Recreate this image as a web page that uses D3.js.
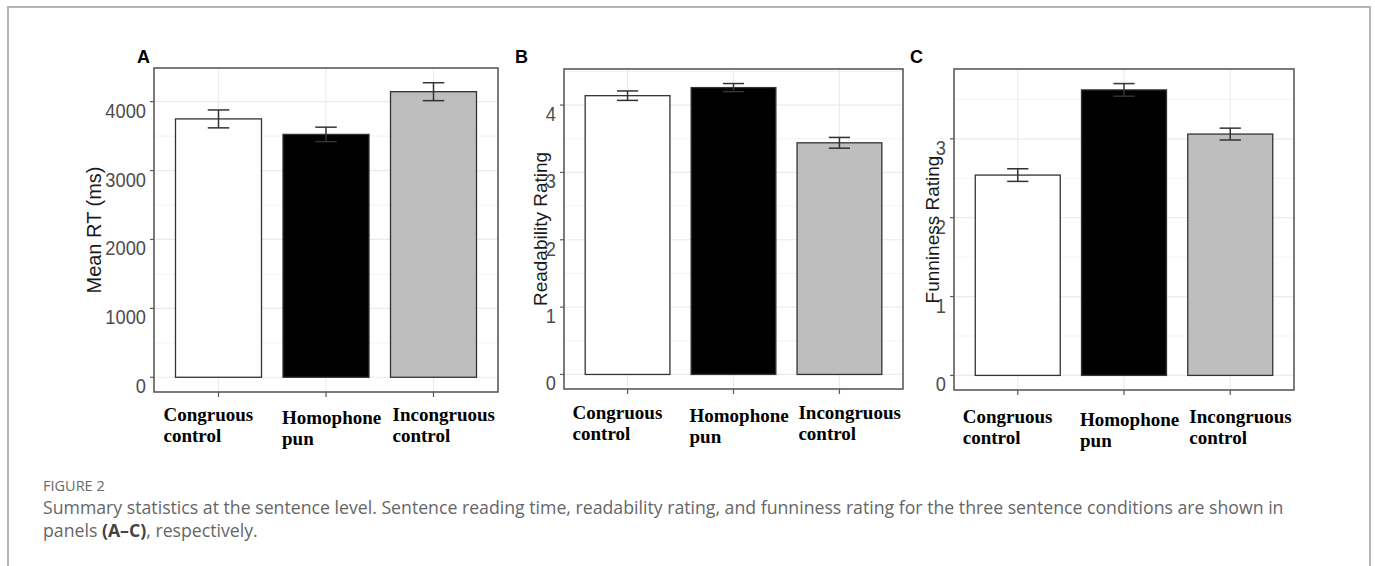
<!DOCTYPE html>
<html>
<head>
<meta charset="utf-8">
<script src="https://cdn.jsdelivr.net/npm/d3@7"></script>
<style>
  body { margin: 0; background: #fff; }
  svg { display: block; }
</style>
</head>
<body>
<svg id="fig" width="1375" height="566"></svg>
<script>
// sentence conditions
const categories = [["Congruous", "control"], ["Homophone", "pun"], ["Incongruous", "control"]];
const barFills = ["#ffffff", "#000000", "#bebebe"];

// panel A: mean reading time
const rtMean = [3750, 3525, 4145];
const rtErr = [130, 105, 130];
const rtTicks = [0, 1000, 2000, 3000, 4000];

// panel B: readability rating
const readMean = [4.14, 4.26, 3.44];
const readErr = [0.07, 0.06, 0.08];
const readTicks = [0, 1, 2, 3, 4];

// panel C: funniness rating
const funMean = [2.54, 3.62, 3.06];
const funErr = [0.08, 0.08, 0.075];
const funTicks = [0, 1, 2, 3];

let svg = d3.select("#fig");

// outer frame of the figure box
svg.append("path")
    .attr("d", "M8,570 L8,7 L1370,7 L1370,570")
    .attr("fill", "none")
    .attr("stroke", "#b4b4b4")
    .attr("stroke-width", 2);

let panels = [
  { letter: "A", title: "Mean RT (ms)", mean: rtMean, err: rtErr, ticks: rtTicks,
    box: [154, 68, 498, 392], titleX: 94, titleSize: 20, labelY: 421 },
  { letter: "B", title: "Readability Rating", mean: readMean, err: readErr, ticks: readTicks,
    box: [564, 69, 903, 389], titleX: 540, titleSize: 19, labelY: 419 },
  { letter: "C", title: "Funniness Rating", mean: funMean, err: funErr, ticks: funTicks,
    box: [954, 69, 1294, 390], titleX: 932, titleSize: 19, labelY: 423 }
];

// left offsets of the two-line category labels, from category centre
let labelShift = [-55, -44, -41];

panels.forEach(function(p) {
    let [x0, y0, x1, y1] = p.box;
    let g = svg.append("g");

    let top = d3.max(p.mean, (d, i) => d + p.err[i]);
    let y = d3.scaleLinear().domain([-0.05 * top, 1.05 * top]).range([y1, y0]);
    let x = d3.scaleBand().domain(d3.range(3)).range([x0, x1])
        .paddingInner(0.2).paddingOuter(0.2);

    // grid
    let step = p.ticks[1] - p.ticks[0];
    let minor = p.ticks.map(t => t + step / 2).filter(t => t < y.domain()[1]);
    g.selectAll(".minor").data(minor).enter().append("line")
        .attr("x1", x0).attr("x2", x1)
        .attr("y1", d => y(d)).attr("y2", d => y(d))
        .attr("stroke", "#f3f3f3").attr("stroke-width", 1);
    g.selectAll(".major").data(p.ticks).enter().append("line")
        .attr("x1", x0).attr("x2", x1)
        .attr("y1", d => y(d)).attr("y2", d => y(d))
        .attr("stroke", "#ebebeb").attr("stroke-width", 1.2);
    g.selectAll(".vgrid").data(d3.range(3)).enter().append("line")
        .attr("x1", d => x(d) + x.bandwidth() / 2).attr("x2", d => x(d) + x.bandwidth() / 2)
        .attr("y1", y0).attr("y2", y1)
        .attr("stroke", "#ebebeb").attr("stroke-width", 1.2);

    // bars
    g.selectAll(".bar").data(p.mean).enter().append("rect")
        .attr("x", (d, i) => x(i))
        .attr("width", x.bandwidth())
        .attr("y", d => y(d))
        .attr("height", d => y(0) - y(d))
        .attr("fill", (d, i) => barFills[i])
        .attr("stroke", "#333")
        .attr("stroke-width", 1.3);

    // error bars
    let ew = x.bandwidth() * 0.25;
    p.mean.forEach(function(m, i) {
        let cx = x(i) + x.bandwidth() / 2;
        let lo = y(m - p.err[i]), hi = y(m + p.err[i]);
        let eb = g.append("g").attr("stroke", "#333").attr("stroke-width", 1.5);
        eb.append("line").attr("x1", cx).attr("x2", cx).attr("y1", lo).attr("y2", hi);
        eb.append("line").attr("x1", cx - ew / 2).attr("x2", cx + ew / 2).attr("y1", lo).attr("y2", lo);
        eb.append("line").attr("x1", cx - ew / 2).attr("x2", cx + ew / 2).attr("y1", hi).attr("y2", hi);
    });

    // panel border
    g.append("rect")
        .attr("x", x0).attr("y", y0)
        .attr("width", x1 - x0).attr("height", y1 - y0)
        .attr("fill", "none").attr("stroke", "#5a5a5a").attr("stroke-width", 1.6);

    // y ticks and labels
    g.selectAll(".ytick").data(p.ticks).enter().append("line")
        .attr("x1", x0 - 4).attr("x2", x0)
        .attr("y1", d => y(d)).attr("y2", d => y(d))
        .attr("stroke", "#5a5a5a").attr("stroke-width", 1.2);
    g.selectAll(".ylab").data(p.ticks).enter().append("g")
        .attr("transform", d => "translate(" + (x0 - 8) + "," + (y(d) + 16) + ") scale(0.87,1)")
      .append("text")
        .attr("text-anchor", "end")
        .attr("font-family", "Liberation Sans, Arial, sans-serif")
        .attr("font-size", 21)
        .attr("fill", "#4d4d4d")
        .text(d => d);

    // x ticks
    g.selectAll(".xtick").data(d3.range(3)).enter().append("line")
        .attr("x1", d => x(d) + x.bandwidth() / 2).attr("x2", d => x(d) + x.bandwidth() / 2)
        .attr("y1", y1).attr("y2", y1 + 5)
        .attr("stroke", "#5a5a5a").attr("stroke-width", 1.2);

    // category labels
    categories.forEach(function(c, i) {
        let lx = x(i) + x.bandwidth() / 2 + labelShift[i];
        let ly = p.labelY + (i == 1 ? 3 : 0);
        let t = g.append("text")
            .attr("font-family", "Liberation Serif, Times New Roman, serif")
            .attr("font-weight", "bold")
            .attr("font-size", 19)
            .attr("fill", "#000");
        t.append("tspan").attr("x", lx).attr("y", ly).text(c[0]);
        t.append("tspan").attr("x", lx).attr("y", ly + 21).text(c[1]);
    });

    // axis title
    g.append("text")
        .attr("transform", "translate(" + p.titleX + "," + ((y0 + y1) / 2) + ") rotate(-90)")
        .attr("text-anchor", "middle")
        .attr("dominant-baseline", "central")
        .attr("font-family", "Liberation Sans, Arial, sans-serif")
        .attr("font-size", p.titleSize)
        .attr("fill", "#1a1a1a")
        .text(p.title);

    // panel letter
    g.append("text")
        .attr("x", x0 - (p.letter == "A" ? 17 : p.letter == "B" ? 49 : 44))
        .attr("y", 62.5)
        .attr("font-family", "Liberation Sans, Arial, sans-serif")
        .attr("font-weight", "bold")
        .attr("font-size", 18)
        .attr("fill", "#000")
        .text(p.letter);
});

// caption
svg.append("text")
    .attr("x", 43).attr("y", 491)
    .attr("font-family", "Open Sans, sans-serif")
    .attr("font-size", 14.5)
    .attr("fill", "#6a6a6a")
    .text("FIGURE 2");

let cap = svg.append("text")
    .attr("font-family", "Open Sans, sans-serif")
    .attr("font-size", 17.7)
    .attr("fill", "#666");
cap.append("tspan").attr("x", 43).attr("y", 514)
    .text("Summary statistics at the sentence level. Sentence reading time, readability rating, and funniness rating for the three sentence conditions are shown in");
let line2 = cap.append("tspan").attr("x", 43).attr("y", 537);
line2.append("tspan").text("panels ");
line2.append("tspan").attr("font-weight", "bold").attr("fill", "#444").text("(A\u2013C)");
line2.append("tspan").text(", respectively.");
</script>
</body>
</html>
